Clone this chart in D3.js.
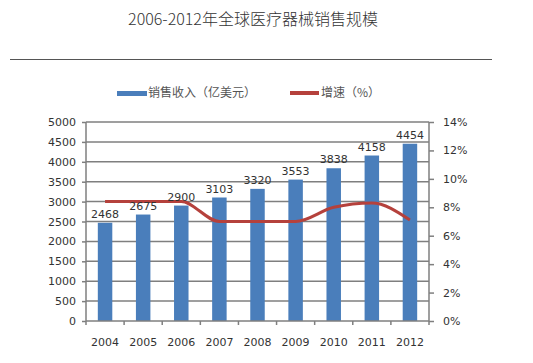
<!DOCTYPE html>
<html><head><meta charset="utf-8">
<script src="https://cdn.jsdelivr.net/npm/d3@7"></script>
<style>body{margin:0;background:#fff;}svg{display:block;}</style>
</head><body>
<svg id="c" width="533" height="363"></svg>
<script>
const years = ["2004","2005","2006","2007","2008","2009","2010","2011","2012"];
const sales = [2468,2675,2900,3103,3320,3553,3838,4158,4454];
const growth = [8.4,8.4,8.4,7.0,7.0,7.0,8.0,8.3,7.1];
const leftTicks = [0,500,1000,1500,2000,2500,3000,3500,4000,4500,5000];
const rightTicks = [0,2,4,6,8,10,12,14];
const titleText = "2006-2012年全球医疗器械销售规模";
const legendLabels = ["销售收入（亿美元）","增速（%）"];

(function(){
const svg = d3.select("#c");
const pL = 86, pR = 429, pT = 122, pB = 321;
const x = d3.scaleBand().domain(years).range([pL, pR]).paddingInner(0.62).paddingOuter(0.31);
const xs = d3.scaleBand().domain(years).range([pL, pR]);
const y = d3.scaleLinear().domain([0,5000]).range([pB, pT]);
const y2 = d3.scaleLinear().domain([0,14]).range([pB, pT]);
const font = "'DejaVu Sans', Verdana, sans-serif";

svg.append("text").attr("x", 253).attr("y", 25).attr("text-anchor","middle")
  .attr("font-family","'Noto Sans CJK SC', sans-serif").attr("font-size",16).attr("font-weight",300).attr("fill","#333")
  .text(titleText);
svg.append("line").attr("x1",10).attr("x2",492).attr("y1",59.5).attr("y2",59.5)
  .attr("stroke","#555").attr("stroke-width",1);

// legend
const lg = svg.append("g").attr("font-family","'Noto Sans CJK SC', sans-serif").attr("font-size",12).attr("fill","#555");
lg.append("rect").attr("x",117).attr("y",91).attr("width",30).attr("height",5).attr("fill","#4a7ebb");
lg.append("text").attr("x",148).attr("y",97).text(legendLabels[0]);
lg.append("rect").attr("x",290).attr("y",91).attr("width",29).attr("height",4).attr("fill","#b5413c");
lg.append("text").attr("x",321).attr("y",97).text(legendLabels[1]);

// gridlines
svg.append("g").selectAll("line").data(leftTicks.filter(d=>d>0)).join("line")
  .attr("x1",pL).attr("x2",pR).attr("y1",d=>y(d)).attr("y2",d=>y(d))
  .attr("stroke","#7f7f7f").attr("stroke-width",1.5);

// bars
svg.append("g").selectAll("rect").data(years).join("rect")
  .attr("x",d=>x(d)).attr("width",x.bandwidth())
  .attr("y",(d,i)=>y(sales[i])).attr("height",(d,i)=>pB-y(sales[i]))
  .attr("fill","#4a7ebb");

// axes
const gl = svg.append("g").attr("transform",`translate(${pL},0)`)
  .call(d3.axisLeft(y).tickValues(leftTicks).tickFormat(d3.format("d")).tickSize(4).tickPadding(6));
const gr = svg.append("g").attr("transform",`translate(${pR},0)`)
  .call(d3.axisRight(y2).tickValues(rightTicks).tickFormat(d=>d+"%").tickSize(5).tickPadding(9));
const gx = svg.append("g").attr("transform",`translate(0,${pB})`)
  .call(d3.axisBottom(xs).tickSize(0).tickPadding(17));
[gl,gr,gx].forEach(g=>{
  g.selectAll("text").attr("font-family",font).attr("font-size",11).attr("fill","#333");
  g.selectAll("line").attr("stroke","#7f7f7f").attr("stroke-width",1.5);
  g.select(".domain").remove();
});
gl.append("line").attr("x1",0).attr("x2",0).attr("y1",pT).attr("y2",pB).attr("stroke","#7f7f7f").attr("stroke-width",1.5);
gr.append("line").attr("x1",0).attr("x2",0).attr("y1",pT).attr("y2",pB).attr("stroke","#7f7f7f").attr("stroke-width",1.5);
gx.append("line").attr("x1",pL).attr("x2",pR).attr("y1",0).attr("y2",0).attr("stroke","#7f7f7f").attr("stroke-width",1.5);
// category separator ticks
svg.append("g").selectAll("line").data(years.concat(["end"])).join("line")
  .attr("x1",(d,i)=>pL+i*xs.step()).attr("x2",(d,i)=>pL+i*xs.step())
  .attr("y1",pB).attr("y2",pB+4).attr("stroke","#7f7f7f").attr("stroke-width",1.5);

// growth line
const line = d3.line().x((d,i)=>xs(years[i])+xs.bandwidth()/2).y(d=>y2(d)).curve(d3.curveMonotoneX);
svg.append("path").datum(growth).attr("d",line).attr("fill","none")
  .attr("stroke","#b5413c").attr("stroke-width",3);

// labels
svg.append("g").selectAll("text").data(years).join("text")
  .attr("x",d=>x(d)+x.bandwidth()/2).attr("y",(d,i)=>y(sales[i])-5)
  .attr("text-anchor","middle").attr("font-family",font).attr("font-size",11).attr("fill","#333")
  .text((d,i)=>sales[i]);
})();
</script>
</body></html>
